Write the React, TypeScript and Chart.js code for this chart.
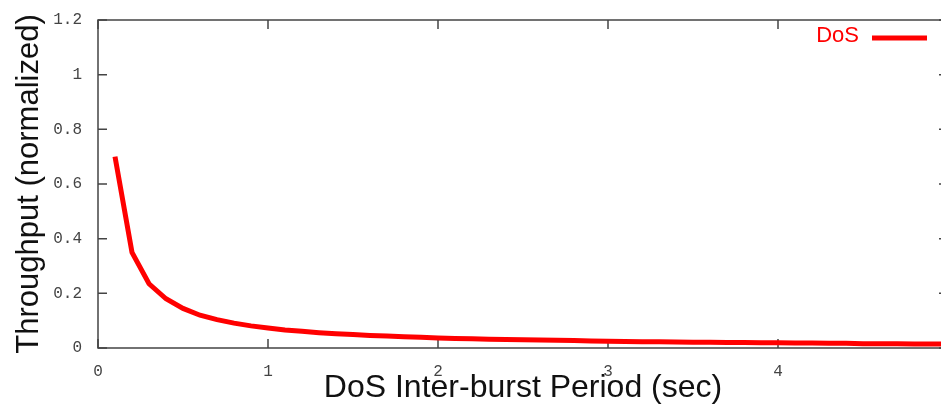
import React, { useEffect, useRef } from "react";
import { Chart, registerables } from "chart.js";

Chart.register(...registerables);

const periods: number[] = [
  0.1, 0.2, 0.3, 0.4, 0.5, 0.6, 0.7, 0.8, 0.9, 1.0,
  1.1, 1.2, 1.3, 1.4, 1.5, 1.6, 1.7, 1.8, 1.9, 2.0,
  2.1, 2.2, 2.3, 2.4, 2.5, 2.6, 2.7, 2.8, 2.9, 3.0,
  3.1, 3.2, 3.3, 3.4, 3.5, 3.6, 3.7, 3.8, 3.9, 4.0,
  4.1, 4.2, 4.3, 4.4, 4.5, 4.6, 4.7, 4.8, 4.9, 5.0,
];

const dosThroughput: number[] = [
  0.70, 0.35, 0.235, 0.18, 0.145, 0.12, 0.104, 0.091, 0.081, 0.073,
  0.066, 0.061, 0.056, 0.052, 0.049, 0.046, 0.044, 0.041, 0.039, 0.037,
  0.035, 0.034, 0.032, 0.031, 0.030, 0.029, 0.028, 0.027, 0.026, 0.025,
  0.024, 0.023, 0.023, 0.022, 0.021, 0.021, 0.020, 0.020, 0.019, 0.019,
  0.018, 0.018, 0.017, 0.017, 0.016, 0.016, 0.016, 0.015, 0.015, 0.015,
];

const xTicks: number[] = [0, 1, 2, 3, 4, 5];
const xTickLabels: string[] = ["0", "1", "2", "3", "4", ""];
const yTicks: number[] = [0, 0.2, 0.4, 0.6, 0.8, 1, 1.2];
const yTickLabels: string[] = ["0", "0.2", "0.4", "0.6", "0.8", "1", "1.2"];

const seriesLabel = "DoS";
const xTitle = "DoS Inter-burst Period (sec)";
const yTitle = "Throughput (normalized)";

const AXIS_COLOR = "#444444";
const RED = "#ff0000";

const framePlugin = {
  id: "gnuplotFrame",
  beforeDatasetsDraw(chart: any) {
    const { ctx, chartArea } = chart;
    const { left, right, top, bottom } = chartArea;
    const xs = chart.scales.x;
    const ys = chart.scales.y;
    const tl = 9;
    ctx.save();
    ctx.strokeStyle = AXIS_COLOR;
    ctx.lineWidth = 1.5;
    ctx.beginPath();
    ctx.rect(left, top, right - left, bottom - top);
    ctx.stroke();
    ctx.beginPath();
    xTicks.forEach((v) => {
      const px = xs.getPixelForValue(v);
      ctx.moveTo(px, bottom);
      ctx.lineTo(px, bottom - tl);
      ctx.moveTo(px, top);
      ctx.lineTo(px, top + tl);
    });
    yTicks.forEach((v) => {
      const py = ys.getPixelForValue(v);
      ctx.moveTo(left, py);
      ctx.lineTo(left + tl, py);
      ctx.moveTo(right, py);
      ctx.lineTo(right - tl, py);
    });
    ctx.stroke();
    ctx.restore();
  },
  afterDatasetsDraw(chart: any) {
    const { ctx } = chart;
    const ds = chart.data.datasets[0];
    ctx.save();
    ctx.font = '22px "Liberation Sans", Arial, sans-serif';
    ctx.fillStyle = ds.borderColor;
    ctx.textAlign = "right";
    ctx.textBaseline = "middle";
    ctx.fillText(ds.label, 859, 36);
    ctx.strokeStyle = ds.borderColor;
    ctx.lineWidth = 5;
    ctx.beginPath();
    ctx.moveTo(872, 38);
    ctx.lineTo(927, 38);
    ctx.stroke();
    ctx.restore();
  },
};

export default function App() {
  const canvasRef = useRef<HTMLCanvasElement | null>(null);

  useEffect(() => {
    const canvas = canvasRef.current;
    if (!canvas) return;
    const chart = new Chart(canvas, {
      type: "line",
      data: {
        datasets: [
          {
            label: seriesLabel,
            data: periods.map((x, i) => ({ x, y: dosThroughput[i] })),
            borderColor: RED,
            backgroundColor: RED,
            borderWidth: 5,
            pointRadius: 0,
            tension: 0,
            fill: false,
          },
        ],
      },
      options: {
        responsive: false,
        animation: false,
        layout: { padding: { top: 20, right: 12, left: 0, bottom: 0 } },
        plugins: {
          legend: { display: false },
          tooltip: { enabled: false },
        },
        scales: {
          x: {
            type: "linear",
            min: 0,
            max: 5,
            afterBuildTicks: (scale: any) => {
              scale.ticks = xTicks.map((v) => ({ value: v }));
            },
            afterFit: (scale: any) => {
              scale.height = 58;
              scale.paddingLeft = 0;
              scale.paddingRight = 0;
            },
            grid: { display: false, drawTicks: false },
            border: { display: false },
            ticks: {
              padding: 14,
              color: "#444444",
              font: { family: '"Liberation Mono", "Courier New", monospace', size: 16 },
              maxRotation: 0,
              autoSkip: false,
              callback: (_v: any, i: number) => xTickLabels[i],
            },
            title: {
              display: true,
              text: xTitle,
              color: "#111111",
              font: { family: '"Liberation Sans", Arial, sans-serif', size: 32, lineHeight: 1.0 },
              padding: { top: 0, bottom: 2 },
            },
          },
          y: {
            type: "linear",
            min: 0,
            max: 1.2,
            afterBuildTicks: (scale: any) => {
              scale.ticks = yTicks.map((v) => ({ value: v }));
            },
            afterFit: (scale: any) => {
              scale.width = 98;
              scale.paddingTop = 0;
              scale.paddingBottom = 0;
            },
            grid: { display: false, drawTicks: false },
            border: { display: false },
            ticks: {
              padding: 16,
              color: "#444444",
              font: { family: '"Liberation Mono", "Courier New", monospace', size: 16 },
              autoSkip: false,
              callback: (_v: any, i: number) => yTickLabels[i],
            },
            title: {
              display: true,
              text: yTitle,
              color: "#111111",
              font: { family: '"Liberation Sans", Arial, sans-serif', size: 31, lineHeight: 1.2 },
              padding: { top: 11, bottom: 0 },
            },
          },
        },
      },
      plugins: [framePlugin],
    });
    return () => chart.destroy();
  }, []);

  return (
    <div
      style={{
        position: "fixed",
        left: 0,
        top: 0,
        width: 941,
        height: 406,
        overflow: "hidden",
        background: "#ffffff",
      }}
    >
      <canvas
        ref={canvasRef}
        width={960}
        height={406}
        style={{ width: 960, height: 406, display: "block" }}
      />
    </div>
  );
}
